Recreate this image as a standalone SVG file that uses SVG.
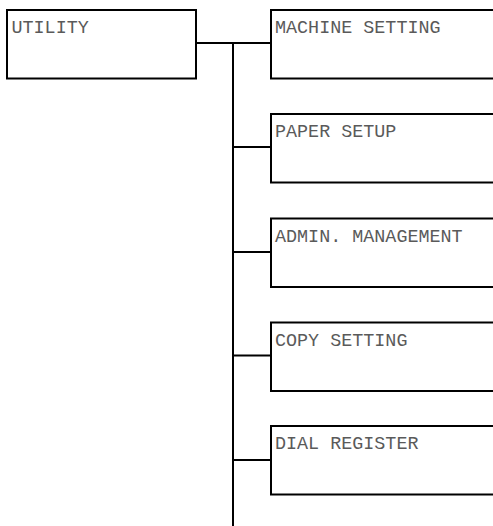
<svg xmlns="http://www.w3.org/2000/svg" width="493" height="526" viewBox="0 0 493 526">
<style>
.box{fill:#fff;stroke:#000;stroke-width:2}
.lbl{font-family:"Liberation Mono","Courier New",monospace;font-size:18.4px;fill:#5a5a5a}
.conn line{stroke:#000;stroke-width:2}
</style>
<rect width="493" height="526" fill="#fff"/>
<g class="conn">
<line x1="196" y1="43" x2="271" y2="43"/>
<line x1="233" y1="43" x2="233" y2="526"/>
<line x1="233" y1="147" x2="271" y2="147"/>
<line x1="233" y1="252" x2="271" y2="252"/>
<line x1="233" y1="355.5" x2="271" y2="355.5"/>
<line x1="233" y1="460" x2="271" y2="460"/>
</g>
<g id="utility"><rect class="box" x="7" y="10" width="189" height="68.5"/><text class="lbl" x="11.5" y="33">UTILITY</text></g>
<g id="machine-setting"><rect class="box" x="271" y="10" width="260" height="68.5"/><text class="lbl" x="275" y="33">MACHINE SETTING</text></g>
<g id="paper-setup"><rect class="box" x="271" y="114" width="260" height="68.5"/><text class="lbl" x="275" y="137">PAPER SETUP</text></g>
<g id="admin-management"><rect class="box" x="271" y="218.5" width="260" height="68.5"/><text class="lbl" x="275" y="241.5">ADMIN. MANAGEMENT</text></g>
<g id="copy-setting"><rect class="box" x="271" y="322.5" width="260" height="68.5"/><text class="lbl" x="275" y="345.5">COPY SETTING</text></g>
<g id="dial-register"><rect class="box" x="271" y="426" width="260" height="68.5"/><text class="lbl" x="275" y="449">DIAL REGISTER</text></g>
</svg>
